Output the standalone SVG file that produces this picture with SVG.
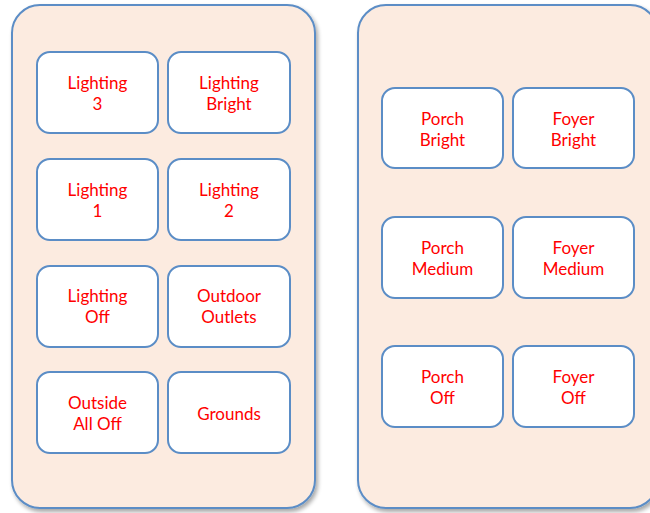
<svg xmlns="http://www.w3.org/2000/svg" width="650" height="513" viewBox="0 0 650 513">
<defs>
<filter id="sh" x="-10%" y="-10%" width="120%" height="120%">
<feGaussianBlur in="SourceAlpha" stdDeviation="2"/>
<feOffset dx="2" dy="3" result="b"/>
<feComponentTransfer><feFuncA type="linear" slope="0.35"/></feComponentTransfer>
<feMerge><feMergeNode/><feMergeNode in="SourceGraphic"/></feMerge>
</filter>
</defs>
<style>
.panel{fill:#FCEBE0;stroke:#5B8DC6;stroke-width:2}
.btn{fill:#FFFFFF;stroke:#5B8DC6;stroke-width:2}
.t{font-family:Lato,"Open Sans","Liberation Sans",sans-serif;font-size:17px;fill:#FF0000;text-anchor:middle}
</style>
<g id="panel-left"><rect class="panel" x="12" y="5" width="303" height="503" rx="28" filter="url(#sh)"/></g>
<g id="panel-right"><rect class="panel" x="358" y="5" width="300" height="503" rx="28" filter="url(#sh)"/></g>
<g id="connectors"></g>
<g id="lighting-3"><rect class="btn" x="37" y="52" width="121" height="81" rx="13"/><text class="t" x="97.5" y="89">Lighting</text><text class="t" x="97.5" y="110">3</text></g>
<g id="lighting-bright"><rect class="btn" x="168" y="52" width="122" height="81" rx="13"/><text class="t" x="229" y="89">Lighting</text><text class="t" x="229" y="110">Bright</text></g>
<g id="lighting-1"><rect class="btn" x="37" y="159" width="121" height="81" rx="13"/><text class="t" x="97.5" y="196">Lighting</text><text class="t" x="97.5" y="217">1</text></g>
<g id="lighting-2"><rect class="btn" x="168" y="159" width="122" height="81" rx="13"/><text class="t" x="229" y="196">Lighting</text><text class="t" x="229" y="217">2</text></g>
<g id="lighting-off"><rect class="btn" x="37" y="266" width="121" height="81" rx="13"/><text class="t" x="97.5" y="302">Lighting</text><text class="t" x="97.5" y="323">Off</text></g>
<g id="outdoor-outlets"><rect class="btn" x="168" y="266" width="122" height="81" rx="13"/><text class="t" x="229" y="302">Outdoor</text><text class="t" x="229" y="323">Outlets</text></g>
<g id="outside-all-off"><rect class="btn" x="37" y="372" width="121" height="81" rx="13"/><text class="t" x="97.5" y="409">Outside</text><text class="t" x="97.5" y="430">All Off</text></g>
<g id="grounds"><rect class="btn" x="168" y="372" width="122" height="81" rx="13"/><text class="t" x="229" y="420">Grounds</text></g>
<g id="porch-bright"><rect class="btn" x="382" y="88" width="121" height="80" rx="13"/><text class="t" x="442.5" y="125">Porch</text><text class="t" x="442.5" y="146">Bright</text></g>
<g id="foyer-bright"><rect class="btn" x="513" y="88" width="121" height="80" rx="13"/><text class="t" x="573.5" y="125">Foyer</text><text class="t" x="573.5" y="146">Bright</text></g>
<g id="porch-medium"><rect class="btn" x="382" y="217" width="121" height="81" rx="13"/><text class="t" x="442.5" y="254">Porch</text><text class="t" x="442.5" y="275">Medium</text></g>
<g id="foyer-medium"><rect class="btn" x="513" y="217" width="121" height="81" rx="13"/><text class="t" x="573.5" y="254">Foyer</text><text class="t" x="573.5" y="275">Medium</text></g>
<g id="porch-off"><rect class="btn" x="382" y="346" width="121" height="81" rx="13"/><text class="t" x="442.5" y="383">Porch</text><text class="t" x="442.5" y="404">Off</text></g>
<g id="foyer-off"><rect class="btn" x="513" y="346" width="121" height="81" rx="13"/><text class="t" x="573.5" y="383">Foyer</text><text class="t" x="573.5" y="404">Off</text></g>
</svg>
